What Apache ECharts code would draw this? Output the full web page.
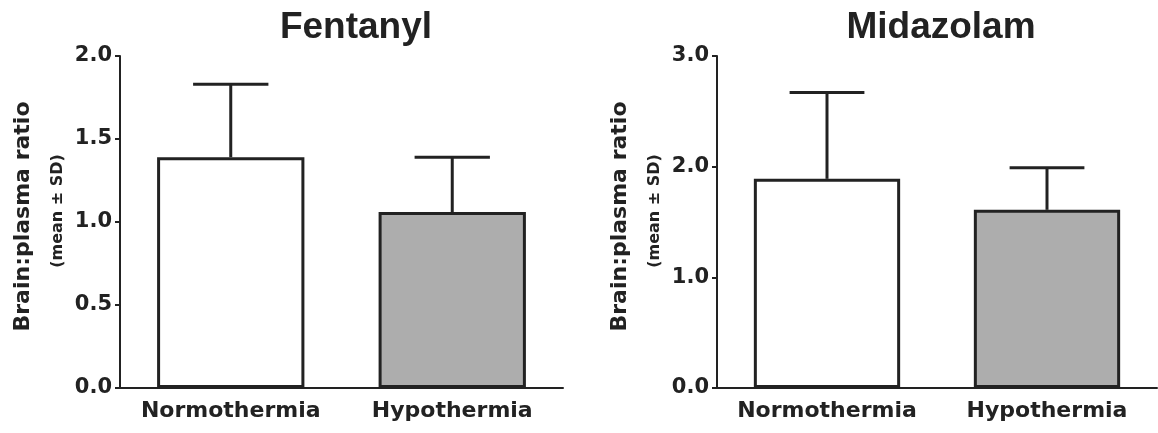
<!DOCTYPE html>
<html>
<head>
<meta charset="utf-8">
<script src="https://cdn.jsdelivr.net/npm/echarts@6/dist/echarts.min.js"></script>
<style>
  html, body { margin: 0; padding: 0; background: #fff; }
  #chart { width: 1158px; height: 433px; }
</style>
</head>
<body>
<div id="chart"></div>
<script>
var categories = ['Normothermia', 'Hypothermia'];
var fentanylMean = [1.39, 1.06];
var fentanylSD = [0.44, 0.33];
var midazolamMean = [1.89, 1.61];
var midazolamSD = [0.78, 0.38];
var barColors = ['#ffffff', '#adadad'];
var fentanylTicks = { min: 0, max: 2, interval: 0.5 };
var midazolamTicks = { min: 0, max: 3, interval: 1 };
var titles = ['Fentanyl', 'Midazolam'];
var yName = 'Brain:plasma ratio';
var ySub = '(mean \u00b1 SD)';

var INK = '#222222';
var FONT = 'DejaVu Sans';

function barData(means) {
  return means.map(function (v, i) {
    return { value: v, itemStyle: { color: barColors[i] } };
  });
}
function errData(means, sds) {
  return means.map(function (v, i) { return [i, v, v + sds[i]]; });
}
function renderErr(params, api) {
  var base = api.coord([api.value(0), api.value(1)]);
  var top = api.coord([api.value(0), api.value(2)]);
  var bw = api.size([1, 0])[0];
  var cap = bw * 0.34;
  var st = { stroke: INK, lineWidth: 3 };
  return {
    type: 'group',
    children: [
      { type: 'line', shape: { x1: base[0], y1: base[1], x2: top[0], y2: top[1] }, style: st },
      { type: 'line', shape: { x1: top[0] - cap / 2, y1: top[1], x2: top[0] + cap / 2, y2: top[1] }, style: st }
    ]
  };
}
function xAxis(idx) {
  return {
    type: 'category', gridIndex: idx, data: categories,
    axisLine: { lineStyle: { color: INK, width: 2 } },
    axisTick: { alignWithLabel: true, length: 6, lineStyle: { color: INK, width: 2 } },
    axisLabel: { interval: 0, color: INK, fontFamily: FONT, fontWeight: 'bold', fontSize: 22, margin: 12 },
    splitLine: { show: false }
  };
}
function yAxis(idx, t) {
  return {
    type: 'value', gridIndex: idx, min: t.min, max: t.max, interval: t.interval,
    name: '{a|' + yName + '}\n{b|' + ySub + '}',
    nameLocation: 'middle', nameRotate: 90, nameGap: 52,
    nameTextStyle: {
      rich: {
        a: { fontFamily: FONT, fontWeight: 'bold', fontSize: 22, color: INK, lineHeight: 50, padding: [0, 0, 0, 11] },
        b: { fontFamily: FONT, fontWeight: 'bold', fontSize: 16, color: INK, lineHeight: 20, padding: [0, 0, 0, 22] }
      }
    },
    axisLine: { show: true, lineStyle: { color: INK, width: 2 } },
    axisTick: { show: true, length: 5, lineStyle: { color: INK, width: 2 } },
    axisLabel: {
      color: INK, fontFamily: FONT, fontWeight: 'bold', fontSize: 21, margin: 8,
      formatter: function (v) { return v.toFixed(1); }
    },
    splitLine: { show: false }
  };
}

var chart = echarts.init(document.getElementById('chart'), null, { renderer: 'canvas' });
chart.setOption({
  backgroundColor: '#ffffff',
  animation: false,
  title: [
    { text: titles[0], left: 351, top: 4, textAlign: 'center',
      textStyle: { fontFamily: 'Liberation Sans', fontWeight: 'bold', fontSize: 37, color: INK } },
    { text: titles[1], left: 936, top: 4, textAlign: 'center',
      textStyle: { fontFamily: 'Liberation Sans', fontWeight: 'bold', fontSize: 37, color: INK } }
  ],
  grid: [
    { left: 120, right: 595, top: 56, bottom: 45 },
    { left: 717, right: 1, top: 56, bottom: 45 }
  ],
  xAxis: [xAxis(0), xAxis(1)],
  yAxis: [yAxis(0, fentanylTicks), yAxis(1, midazolamTicks)],
  series: [
    { type: 'bar', xAxisIndex: 0, yAxisIndex: 0, barWidth: '66.5%', data: barData(fentanylMean),
      itemStyle: { borderColor: INK, borderWidth: 3 } },
    { type: 'custom', xAxisIndex: 0, yAxisIndex: 0, renderItem: renderErr, data: errData(fentanylMean, fentanylSD), z: 3 },
    { type: 'bar', xAxisIndex: 1, yAxisIndex: 1, barWidth: '66.5%', data: barData(midazolamMean),
      itemStyle: { borderColor: INK, borderWidth: 3 } },
    { type: 'custom', xAxisIndex: 1, yAxisIndex: 1, renderItem: renderErr, data: errData(midazolamMean, midazolamSD), z: 3 }
  ]
});
</script>
</body>
</html>
